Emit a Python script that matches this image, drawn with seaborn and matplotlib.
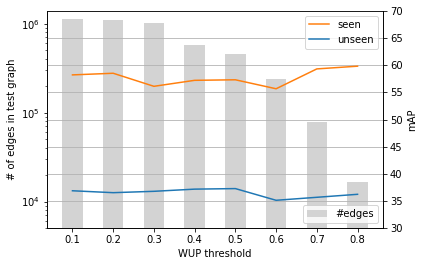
import numpy as np
import pandas as pd
import seaborn as sns
import matplotlib
matplotlib.use("Agg")
import matplotlib.pyplot as plt

# WUP thresholds and values
thresholds = [0.1, 0.2, 0.3, 0.4, 0.5, 0.6, 0.7, 0.8]
n_edges = [1.14e6, 1.11e6, 1.03e6, 5.8e5, 4.6e5, 2.4e5, 7.85e4, 1.67e4]
seen_map = [58.2, 58.5, 56.1, 57.2, 57.3, 55.65, 59.3, 59.8]
unseen_map = [36.9, 36.55, 36.8, 37.2, 37.3, 35.15, 35.7, 36.25]
map_ticks = [30, 35, 40, 45, 50, 55, 60, 65, 70]

df = pd.DataFrame({"wup": thresholds, "edges": n_edges,
                   "seen": seen_map, "unseen": unseen_map})

fig, ax = plt.subplots(figsize=(422 / 72, 266 / 72), dpi=72)
fig.subplots_adjust(left=0.1114, right=0.9076, top=0.9598, bottom=0.1417)

# bars of edge counts on log axis
ax.set_yscale("log")
sns.barplot(data=df, x="wup", y="edges", native_scale=True, width=0.5,
            color="lightgrey", saturation=1, label="#edges", ax=ax)
ax.set_ylim(5e3, 1.4e6)
ax.set_xticks(thresholds)
ax.set_xticklabels([str(t) for t in thresholds])
ax.set_xlim(0.0375 + 0.0, 0.8625)
ax.set_xlabel("WUP threshold")
ax.set_ylabel("# of edges in test graph")
ax.legend(loc="lower right")

# mAP lines on the twin axis
ax2 = ax.twinx()
sns.lineplot(data=df, x="wup", y="seen", color="C1", label="seen", ax=ax2)
sns.lineplot(data=df, x="wup", y="unseen", color="C0", label="unseen", ax=ax2)
ax2.set_ylim(30, 70)
ax2.set_yticks(map_ticks)
ax2.set_ylabel("mAP")
ax2.grid(axis="y")
ax2.legend(loc="upper right")
ax.set_xlim(0.0375, 0.8625)

fig.savefig("out.png", dpi=72)
